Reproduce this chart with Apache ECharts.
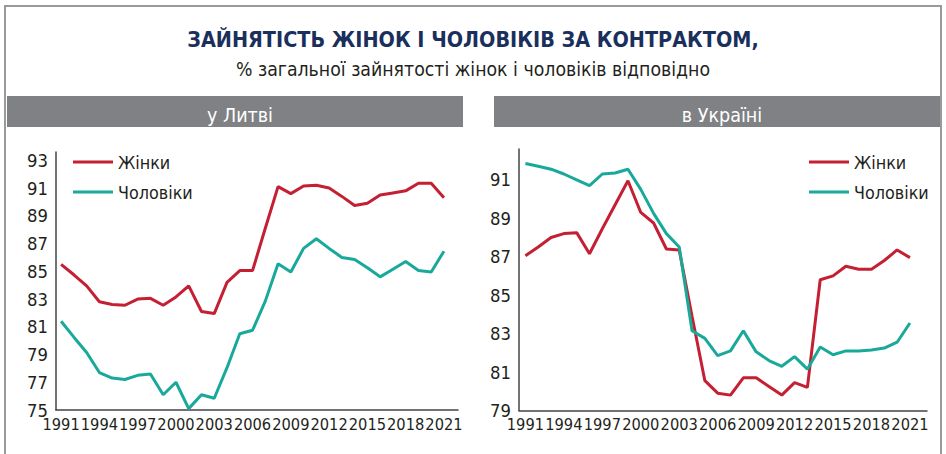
<!DOCTYPE html>
<html>
<head>
<meta charset="utf-8">
<script src="https://cdn.jsdelivr.net/npm/echarts@6/dist/echarts.min.js"></script>
<style>
html,body{margin:0;padding:0;background:#fff;}
#c{width:946px;height:454px;}
</style>
</head>
<body>
<div id="c"></div>
<script>
// ---- data ----
var years = [1991,1992,1993,1994,1995,1996,1997,1998,1999,2000,2001,2002,2003,2004,2005,2006,2007,2008,2009,2010,2011,2012,2013,2014,2015,2016,2017,2018,2019,2020,2021];
var yearTicks = [1991,1994,1997,2000,2003,2006,2009,2012,2015,2018,2021];
var ltWomen = [85.5,84.75,83.95,82.8,82.6,82.55,83.0,83.05,82.55,83.15,83.95,82.1,81.95,84.2,85.05,85.05,88.1,91.1,90.6,91.15,91.2,91.0,90.4,89.75,89.9,90.5,90.65,90.8,91.35,91.35,90.3];
var ltMen = [81.4,80.25,79.15,77.7,77.3,77.2,77.5,77.6,76.1,77.0,75.1,76.1,75.85,78.05,80.5,80.75,82.85,85.55,84.95,86.65,87.35,86.65,86.0,85.85,85.25,84.6,85.15,85.7,85.05,84.95,86.45];
var uaWomen = [87.05,87.5,88.0,88.2,88.25,87.15,88.45,89.7,90.95,89.3,88.75,87.4,87.35,83.9,80.55,79.9,79.8,80.7,80.7,80.25,79.8,80.45,80.2,85.8,86.0,86.5,86.35,86.35,86.8,87.35,86.95];
var uaMen = [91.85,91.7,91.55,91.3,91.0,90.7,91.3,91.35,91.55,90.5,89.25,88.2,87.5,83.15,82.75,81.85,82.1,83.15,82.05,81.6,81.3,81.8,81.15,82.3,81.9,82.1,82.1,82.15,82.25,82.55,83.55];
var ltYTicks = [75,77,79,81,83,85,87,89,91,93];
var uaYTicks = [79,81,83,85,87,89,91];
var seriesNames = ['Жінки','Чоловіки'];
var titleText = 'ЗАЙНЯТІСТЬ ЖІНОК І ЧОЛОВІКІВ ЗА КОНТРАКТОМ,';
var subtitleText = '% загальної зайнятості жінок і чоловіків відповідно';
var panelTitles = ['у Литві','в Україні'];

// ---- styles ----
var RED = '#c41f33', TEAL = '#19a99a';
var NARROW = '"Liberation Sans Narrow","DejaVu Sans Condensed","Roboto Condensed","Roboto",sans-serif';
var AXIS = '#444';
var cnv = document.createElement('canvas').getContext('2d');
function fit(text, weight, target, maxSize){
  cnv.font = weight + ' 100px ' + NARROW;
  var w = cnv.measureText(text).width;
  return Math.min(maxSize, Math.floor(100 * target / w * 10) / 10);
}
var tickSize = fit('2006', 'normal', 37.5, 20);
var yTickSize = fit('93', 'normal', 21, 21);
var titleSize = fit(titleText, 'bold', 572, 27);
var subSize = fit(subtitleText, 'normal', 476, 20);
var legendSize = fit('Чоловіки', 'normal', 75, 20);
var panelSize = fit('у Литві', 'normal', 66, 21);

function pairs(vals){ return years.map(function(y,i){ return [y, vals[i]]; }); }

function xAxis(gi, min, max){
  return {type:'value', gridIndex:gi, min:min, max:max,
    axisLine:{show:true, onZero:false, lineStyle:{color:AXIS, width:1.5}},
    axisTick:{show:false}, splitLine:{show:false},
    axisLabel:{customValues:yearTicks, showMinLabel:true, showMaxLabel:true, hideOverlap:false,
      color:'#231f20', fontFamily:NARROW, fontSize:tickSize, margin:6,
      formatter:function(v){return String(v);}}};
}
function yAxis(gi, min, max, ticks){
  return {type:'value', gridIndex:gi, min:min, max:max,
    axisLine:{show:true, lineStyle:{color:AXIS, width:1.5}},
    axisTick:{show:false}, splitLine:{show:false},
    axisLabel:{customValues:ticks, showMinLabel:true, color:'#231f20', fontFamily:NARROW, fontSize:yTickSize, margin:8}};
}
function line(name, gi, vals, color){
  return {name:name, type:'line', xAxisIndex:gi, yAxisIndex:gi, data:pairs(vals),
    showSymbol:false, symbol:'none', lineStyle:{color:color, width:3}, itemStyle:{color:color}, z:3};
}
var legendText = {color:'#231f20', fontFamily:NARROW, fontSize:legendSize};

var chart = echarts.init(document.getElementById('c'), null, {renderer:'svg'});
chart.setOption({
  animation:false,
  title:[
    {text:titleText, left:'center', top:24, textStyle:{color:'#1b2f5c', fontFamily:NARROW, fontWeight:'bold', fontSize:titleSize}},
    {text:subtitleText, left:'center', top:55, textStyle:{color:'#231f20', fontFamily:NARROW, fontWeight:'normal', fontSize:subSize}},
    {text:panelTitles[0], left:235, textAlign:'center', top:100, textStyle:{color:'#fff', fontFamily:NARROW, fontWeight:'normal', fontSize:panelSize}},
    {text:panelTitles[1], left:717, textAlign:'center', top:100, textStyle:{color:'#fff', fontFamily:NARROW, fontWeight:'normal', fontSize:panelSize}}
  ],
  graphic:[
    {type:'rect', shape:{x:5, y:6, width:936, height:460}, style:{fill:'none', stroke:'#9a9a9a', lineWidth:2}, z:-10},
    {type:'rect', shape:{x:7, y:96, width:456, height:31}, style:{fill:'#808184'}, z:-5},
    {type:'rect', shape:{x:494, y:96, width:446, height:31}, style:{fill:'#808184'}, z:-5}
  ],
  legend:[
    {data:seriesNames, orient:'vertical', left:68, top:148, icon:'rect', itemWidth:40, itemHeight:3, itemGap:12, textStyle:legendText, selectedMode:false},
    {data:seriesNames, orient:'vertical', left:804, top:148, icon:'rect', itemWidth:40, itemHeight:3, itemGap:12, textStyle:legendText, selectedMode:false}
  ],
  grid:[
    {left:56, top:152, width:402, height:258},
    {left:519, top:149, width:408, height:261.5}
  ],
  xAxis:[xAxis(0,1990.6,2022.1), xAxis(1,1990.5,2022.33)],
  yAxis:[yAxis(0,75,93.6,ltYTicks), yAxis(1,79,92.6,uaYTicks)],
  series:[
    line(seriesNames[0],0,ltWomen,RED),
    line(seriesNames[1],0,ltMen,TEAL),
    line(seriesNames[0],1,uaWomen,RED),
    line(seriesNames[1],1,uaMen,TEAL)
  ]
});
</script>
</body>
</html>
